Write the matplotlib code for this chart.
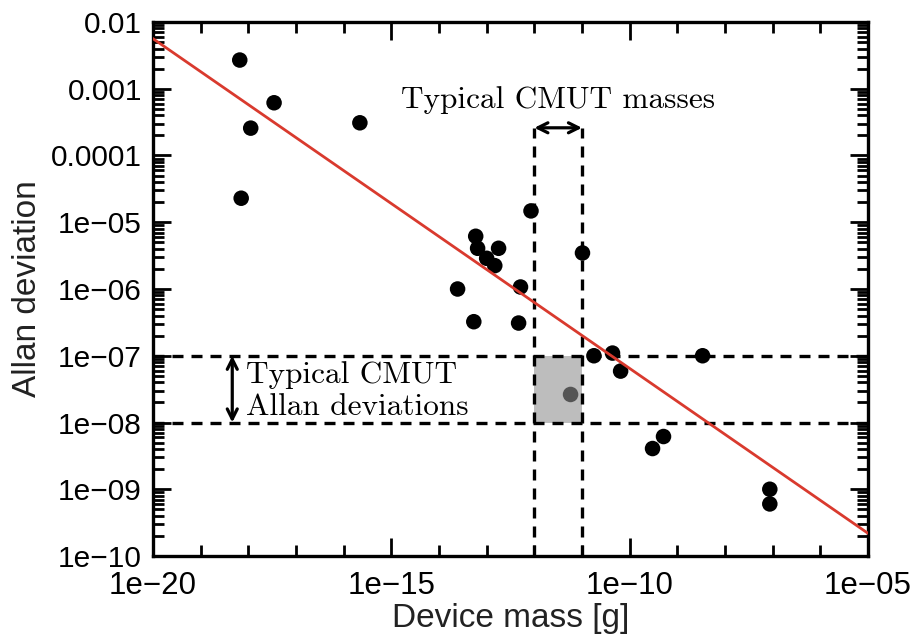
'''Allan deviation vs device mass, log-log scatter with fit line'''

import numpy as np
import matplotlib
matplotlib.use('Agg')
import matplotlib.pyplot as plt
from matplotlib.patches import Rectangle
from matplotlib.ticker import FixedLocator, LogLocator, FixedFormatter, NullFormatter

# measured devices (log10 of mass in g, log10 of Allan deviation)
log_mass = [-18.18, -18.15, -17.95, -17.46, -15.66, -13.61, -13.23, -13.19,
            -13.27, -13.00, -12.83, -12.75, -12.29, -12.33, -12.07, -10.99,
            -10.75, -10.36, -10.19, -9.52, -9.29, -8.47, -7.06, -7.06]
log_adev = [-2.57, -4.64, -3.59, -3.21, -3.51, -6.00, -5.21, -5.39,
            -6.49, -5.54, -5.65, -5.39, -5.97, -6.51, -4.83, -5.46,
            -7.00, -6.96, -7.23, -8.39, -8.21, -7.00, -9.00, -9.22]
# the CMUT point inside the grey box
cmut_log_mass = [-11.24]
cmut_log_adev = [-7.58]

# fitted trend line (end points)
fit_mass = [1e-20, 1e-5]
fit_adev = [10 ** -2.25, 10 ** -9.66]

# typical CMUT ranges
cmut_mass_range = [1e-12, 1e-11]
cmut_adev_range = [1e-8, 1e-7]

x_ticks = [1e-20, 1e-15, 1e-10, 1e-5]
x_tick_labels = ['1e\u221220', '1e\u221215', '1e\u221210', '1e\u221205']
y_ticks = [1e-10, 1e-9, 1e-8, 1e-7, 1e-6, 1e-5, 1e-4, 1e-3, 1e-2]
y_tick_labels = ['1e\u221210', '1e\u221209', '1e\u221208', '1e\u221207', '1e\u221206',
                 '1e\u221205', '0.0001', '0.001', '0.01']

plt.rcParams['font.family'] = ['Liberation Sans', 'DejaVu Sans']
serif = ['cmr10', 'DejaVu Serif']

fig = plt.figure(figsize=(9.15, 6.41), dpi=100)
ax = fig.add_axes([153 / 915, 1 - 556 / 641, 715 / 915, 534 / 641])
ax.set_xscale('log')
ax.set_yscale('log')
ax.set_xlim(1e-20, 1e-5)
ax.set_ylim(1e-10, 1e-2)

# grey box for the CMUT region
ax.add_patch(Rectangle((cmut_mass_range[0], cmut_adev_range[0]),
                       cmut_mass_range[1] - cmut_mass_range[0],
                       cmut_adev_range[1] - cmut_adev_range[0],
                       facecolor='#bdbdbd', edgecolor='none', zorder=1))

dash = (0, (3.3, 2.4))
arrow_y = 2.6e-4
for yv in cmut_adev_range:
    ax.axhline(yv, color='black', lw=2.4, linestyle=dash, zorder=2)
ax.vlines(cmut_mass_range, 1e-10, arrow_y, color='black', lw=2.4,
          linestyle=dash, zorder=2)

ax.scatter(np.power(10.0, log_mass), np.power(10.0, log_adev), s=125,
           color='black', edgecolors='none', zorder=3)
ax.scatter(np.power(10.0, cmut_log_mass), np.power(10.0, cmut_log_adev), s=125,
           color='#555555', edgecolors='none', zorder=3)

ax.plot(fit_mass, fit_adev, color='#d93a2e', lw=2.0, zorder=4)

# arrows and annotations
ax.annotate('', xy=(cmut_mass_range[1], arrow_y), xytext=(cmut_mass_range[0], arrow_y),
            arrowprops=dict(arrowstyle='<->', lw=2.3, color='black',
                            mutation_scale=18, shrinkA=0, shrinkB=0), zorder=5)
ax.text(np.sqrt(cmut_mass_range[0] * cmut_mass_range[1]), 10 ** -3.17,
        'Typical CMUT masses', family=serif, fontsize=22.5,
        ha='center', va='center', zorder=5)

arrow_x = 4.6e-19
ax.annotate('', xy=(arrow_x, cmut_adev_range[1]), xytext=(arrow_x, cmut_adev_range[0]),
            arrowprops=dict(arrowstyle='<->', lw=2.3, color='black',
                            mutation_scale=18, shrinkA=0, shrinkB=0), zorder=5)
ax.text(9e-19, 10 ** -7.53, 'Typical CMUT\nAllan deviations', family=serif,
        fontsize=22.5, ha='left', va='center', linespacing=1.15, zorder=5)

# ticks
ax.xaxis.set_major_locator(FixedLocator(x_ticks))
ax.xaxis.set_major_formatter(FixedFormatter(x_tick_labels))
ax.xaxis.set_minor_locator(LogLocator(base=10, subs=(1.0,), numticks=30))
ax.xaxis.set_minor_formatter(NullFormatter())
ax.yaxis.set_major_locator(FixedLocator(y_ticks))
ax.yaxis.set_major_formatter(FixedFormatter(y_tick_labels))
ax.yaxis.set_minor_locator(LogLocator(base=10, subs=np.arange(2, 10), numticks=20))
ax.yaxis.set_minor_formatter(NullFormatter())

ax.tick_params(which='both', direction='in', top=True, right=True, width=2.0,
               colors='black')
ax.tick_params(which='major', length=13)
ax.tick_params(which='minor', length=8)
ax.tick_params(axis='y', pad=8, labelsize=21.5)
ax.tick_params(axis='x', pad=11, labelsize=22.5)
for sp in ax.spines.values():
    sp.set_linewidth(2.4)

ax.set_xlabel('Device mass [g]', fontsize=24, color='#222222', labelpad=1)
ax.set_ylabel('Allan deviation', fontsize=24, color='#222222', labelpad=6)

fig.savefig('out.png', dpi=100)
